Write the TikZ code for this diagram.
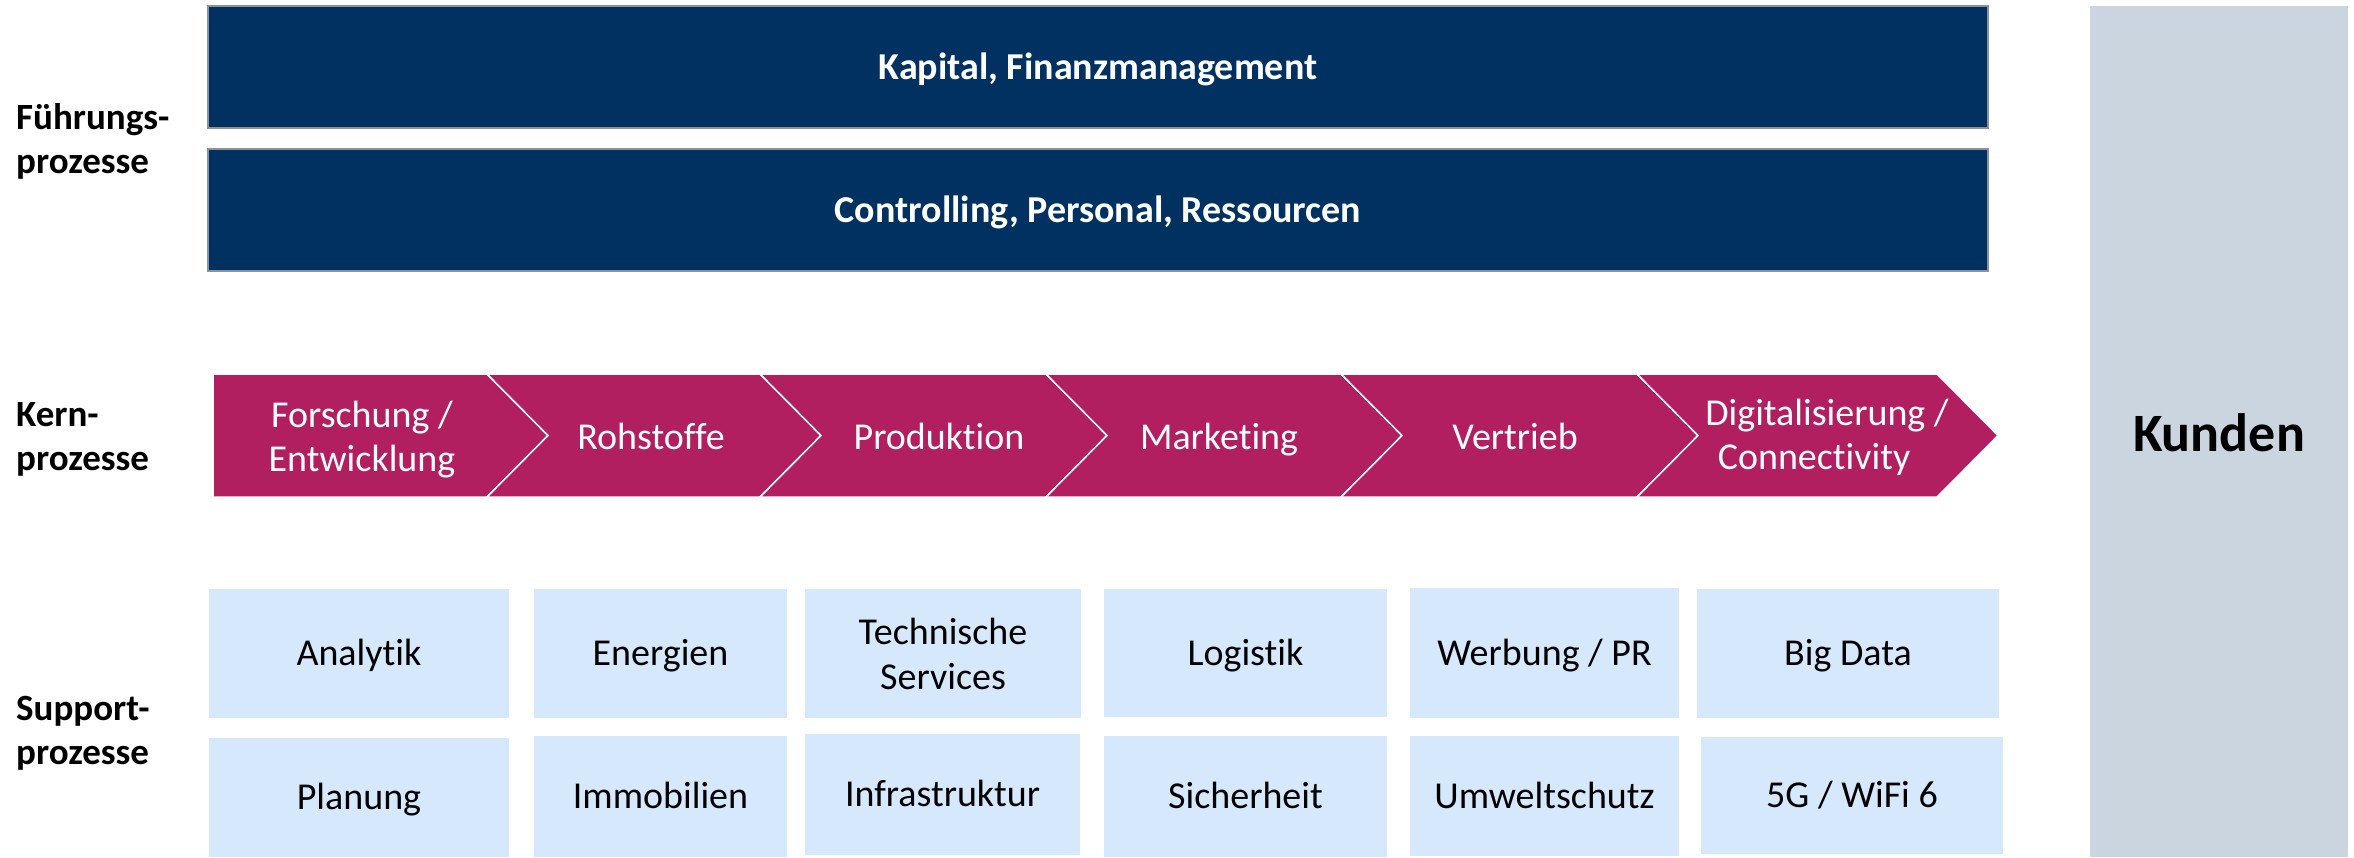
\documentclass[tikz,border=0pt]{standalone}
\usepackage{fontspec}
\setmainfont{Carlito}[Ligatures={NoCommon}]
\definecolor{navyc}{RGB}{0,49,96}
\definecolor{navyedge}{RGB}{140,146,156}
\definecolor{magc}{RGB}{177,31,97}
\definecolor{supc}{RGB}{213,232,252}
\definecolor{kundc}{RGB}{203,213,223}
\newcommand\supbox[6]{\node[sup, minimum width={#4-#2}, minimum height={#5-#3}] (#1) at ({(#2+#4)/2},{(#3+#5)/2}) {#6};}
\begin{document}
\begin{tikzpicture}[x=1pt,y=-1pt,
  navybox/.style={fill=navyc, draw=navyedge, line width=1.2pt, text=white, inner sep=0pt, outer sep=0pt,
    font=\bfseries\fontsize{38pt}{44pt}\selectfont, text height=24.5pt, text depth=0pt},
  sup/.style={fill=supc, draw=none, inner sep=0pt, outer sep=0pt, align=center,
    font=\fontsize{38pt}{45pt}\selectfont, text height=24.5pt, text depth=0pt},
  chev/.style={fill=magc, draw=white, line width=1.5pt, line join=miter},
  chevtext/.style={text=white, inner sep=0pt, align=center, font=\fontsize{38pt}{44pt}\selectfont},
  one/.style={text height=24.5pt, text depth=0pt},
  lab/.style={anchor=west, inner sep=0pt, align=left, font=\bfseries\fontsize{37pt}{44pt}\selectfont}
]
\useasboundingbox (0,0) rectangle (2354,857);

% Kunden
\node[fill=kundc, inner sep=0pt, outer sep=0pt, minimum width=258pt, minimum height=851pt] (kunden) at (2219,431.5) {};
\node[inner sep=0pt, font=\bfseries\fontsize{54pt}{60pt}\selectfont, text height=34.8pt, text depth=0pt] (kundentext) at (2219,434) {Kunden};

% Fuehrungsprozesse
\node[navybox, minimum width=1780pt, minimum height=122pt] (kap) at (1098,67) {Kapital, Finanzmanagement};
\node[navybox, minimum width=1780pt, minimum height=122pt] (con) at (1098,210) {Controlling, Personal, Ressourcen};

% Kernprozesse
\path[chev] (213,374) -- (487,374) -- (548,435.5) -- (487,497) -- (213,497) -- cycle;
\path[chev] (487,374) -- (760,374) -- (821,435.5) -- (760,497) -- (487,497) -- (548,435.5) -- cycle;
\path[chev] (760,374) -- (1046,374) -- (1107,435.5) -- (1046,497) -- (760,497) -- (821,435.5) -- cycle;
\path[chev] (1046,374) -- (1341,374) -- (1402,435.5) -- (1341,497) -- (1046,497) -- (1107,435.5) -- cycle;
\path[chev] (1341,374) -- (1637,374) -- (1698,435.5) -- (1637,497) -- (1341,497) -- (1402,435.5) -- cycle;
\path[chev] (1637,374) -- (1937,374) -- (1998,435.5) -- (1937,497) -- (1637,497) -- (1698,435.5) -- cycle;

\node[chevtext] (k1) at (362,439.5) {Forschung /\\Entwicklung};
\node[chevtext, one] (k2) at (651,437) {Rohstoffe};
\node[chevtext, one] (k3) at (939,437) {Produktion};
\node[chevtext, one] (k4) at (1219,437) {Marketing};
\node[chevtext, one] (k5) at (1515,437) {Vertrieb};
\node[chevtext] (k6) at (1827,437.5) {Digitalisierung /\\Connectivity\hspace*{26pt}};

% Supportprozesse
\supbox{s11}{209}{589}{509}{718}{Analytik}
\supbox{s12}{534}{589}{787}{718}{Energien}
\node[sup, minimum width=276pt, minimum height=129pt, text height=, text depth=] (s13) at (943,653.5) {Technische\\Services};
\supbox{s14}{1104}{589}{1387}{717}{Logistik}
\supbox{s15}{1410}{588}{1679}{718}{Werbung / PR}
\supbox{s16}{1697}{589}{1999}{718}{Big Data}
\supbox{s21}{209}{738}{509}{857}{Planung}
\supbox{s22}{534}{736}{787}{857}{Immobilien}
\supbox{s23}{805}{734}{1080}{855}{Infrastruktur}
\supbox{s24}{1104}{736}{1387}{857}{Sicherheit}
\supbox{s25}{1410}{736}{1679}{856}{Umweltschutz}
\supbox{s26}{1701}{737}{2003}{854}{5G / WiFi 6}

% Labels
\node[lab] (lf) at (16,141) {Führungs-\\prozesse};
\node[lab] (lk) at (16,439) {Kern-\\prozesse};
\node[lab] (ls) at (16,733) {Support-\\prozesse};
\end{tikzpicture}
\end{document}
